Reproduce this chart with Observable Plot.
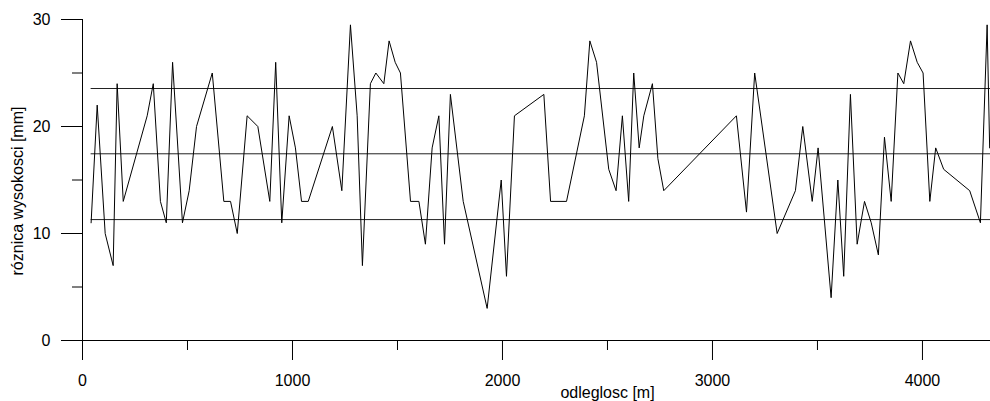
<!DOCTYPE html>
<html><head><meta charset="utf-8">
<script src="https://cdn.jsdelivr.net/npm/d3@7"></script>
<script src="https://cdn.jsdelivr.net/npm/@observablehq/plot@0.6"></script>
<style>body{margin:0;background:#fff}</style>
</head><body><div id="chart"></div>
<script>
const distance = [41,70,108,146,165,194,308,337,371,399,429,476,508,543,618,673,705,737,784,835,892,920,949,984,1014,1043,1075,1190,1235,1276,1308,1333,1371,1397,1435,1460,1489,1514,1562,1602,1633,1665,1697,1724,1752,1813,1927,1994,2019,2057,2197,2229,2305,2390,2416,2448,2506,2541,2571,2601,2625,2651,2673,2714,2740,2768,3114,3162,3201,3308,3395,3430,3475,3503,3565,3597,3625,3657,3689,3724,3756,3790,3819,3851,3883,3911,3943,3975,4003,4035,4063,4101,4225,4276,4308,4320];
const difference = [11,22,10,7,24,13,21,24,13,11,26,11,14,20,25,13,13,10,21,20,13,26,11,21,18,13,13,20,14,29.5,21,7,24,25,24,28,26,25,13,13,9,18,21,9,23,13,3,15,6,21,23,13,13,21,28,26,16,14,21,13,25,18,21,24,17,14,21,12,25,10,14,20,13,18,4,15,6,23,9,13,11,8,19,13,25,24,28,26,25,13,18,16,14,11,29.5,18];
const refLevels = [23.55, 17.45, 11.3];
const xMax = 4324;
const xMajorTicks = [0, 1000, 2000, 3000, 4000];
const xMinorTicks = [500, 1500, 2500, 3500];
const yMajorTicks = [0, 10, 20, 30];
const yMinorTicks = [5, 15, 25];
const xTitle = "odleglosc [m]";
const yTitle = "róznica wysokosci [mm]";

const data = distance.map((d, i) => ({x: d, y: difference[i]}));

const chart = Plot.plot({
  width: 990, height: 401,
  marginLeft: 82, marginRight: 0, marginTop: 19, marginBottom: 61,
  style: {fontFamily: "'Liberation Sans', Arial, sans-serif", fontSize: "16px", background: "#fff", color: "#000", overflow: "visible"},
  x: {domain: [0, xMax]},
  y: {domain: [0, 30]},
  marks: [
    Plot.ruleY(refLevels, {x1: distance[0], x2: xMax, stroke: "#222", strokeWidth: 1}),
    Plot.line(data, {x: "x", y: "y", stroke: "#000", strokeWidth: 1}),
    Plot.ruleX([0], {y1: 0, y2: 30, stroke: "#000"}),
    Plot.ruleY([0], {x1: 0, x2: xMax, stroke: "#000"}),
    Plot.axisX(xMajorTicks, {tickSize: 20, tickPadding: 14, tickFormat: d => String(d), label: null, stroke: "#000", strokeOpacity: 1, fontSize: 16}),
    Plot.axisX(xMinorTicks, {tickSize: 10, tickFormat: () => "", label: null, stroke: "#000", strokeOpacity: 1}),
    Plot.axisY(yMajorTicks, {tickSize: 21, tickPadding: 11, tickFormat: d => String(d), label: null, stroke: "#000", strokeOpacity: 1, fontSize: 16}),
    Plot.axisY(yMinorTicks, {tickSize: 10, tickFormat: () => "", label: null, stroke: "#000", strokeOpacity: 1}),
    Plot.text([yTitle], {text: d => d, frameAnchor: "left", dx: -65, dy: 11, rotate: -90, textAnchor: "middle", lineAnchor: "middle", fontSize: 16, fill: "#000"}),
    Plot.text([xTitle], {text: d => d, frameAnchor: "bottom", dx: 71, dy: 52, textAnchor: "middle", lineAnchor: "middle", fontSize: 16, fill: "#000"})
  ]
});
document.getElementById("chart").appendChild(chart);
</script>
</body></html>
